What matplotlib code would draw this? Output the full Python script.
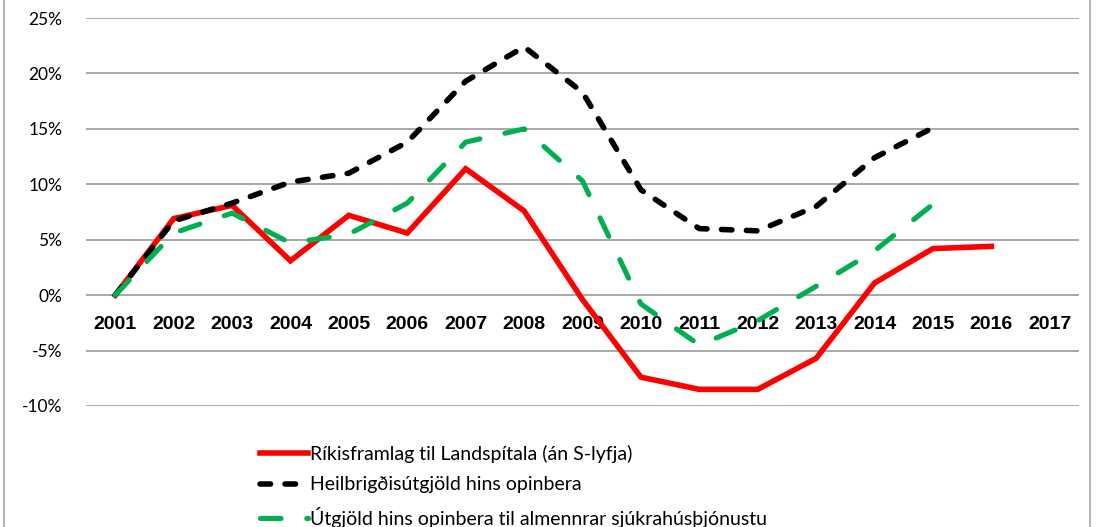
import numpy as np
import matplotlib.pyplot as plt
from matplotlib.patches import Rectangle

plt.rcParams['font.family'] = ['Lato', 'DejaVu Sans']

years = [str(y) for y in range(2001, 2018)]

# árleg breyting frá 2001, %
rikisframlag = [0.0, 6.9, 8.1, 3.1, 7.2, 5.6, 11.4, 7.6, -0.4, -7.4, -8.5, -8.5, -5.7, 1.1, 4.2, 4.4, None]
heilbrigdis = [0.0, 6.7, 8.3, 10.2, 11.0, 13.8, 19.3, 22.4, 18.3, 9.5, 6.0, 5.8, 8.0, 12.4, 15.1, None, None]
sjukrahus = [0.0, 5.6, 7.4, 4.7, 5.5, 8.3, 13.8, 15.0, 10.3, -0.8, -4.5, -2.3, 0.8, 4.0, 8.2, None, None]

labels = ["Ríkisframlag til Landspítala (án S-lyfja)",
          "Heilbrigðisútgjöld hins opinbera",
          "Útgjöld hins opinbera til almennrar sjúkrahúsþjónustu"]

def as_array(vals):
    return np.array([np.nan if v is None else v for v in vals], dtype=float)

fig = plt.figure(figsize=(11, 5.27), dpi=100)
ax = fig.add_axes([86 / 1100, 1 - 406 / 527, (1079 - 86) / 1100, (406 - 18) / 527])

# rammi utan um myndina
fig.patches.append(Rectangle((4 / 1100, -0.1), (1090 - 4) / 1100, 1.2,
                             transform=fig.transFigure, fill=False,
                             edgecolor='#a6a6a6', linewidth=1.2))

x = np.arange(len(years))
ax.plot(x, as_array(rikisframlag), color='#ff0000', lw=4.0, solid_joinstyle='miter',
        label=labels[0])
ax.plot(x, as_array(heilbrigdis), color='black', lw=4.0, dash_capstyle='round',
        dashes=(1.9, 2.6), label=labels[1])
ax.plot(x, as_array(sjukrahus), color='#00b050', lw=3.7, dash_capstyle='round',
        dashes=(4.0, 5.0), label=labels[2])

# x-ásinn liggur við 0%, áður en merkin eru sett
ax.spines['bottom'].set_position(('data', 0))
for s in ax.spines.values():
    s.set_visible(False)

ax.set_xlim(-0.5, len(years) - 0.5)
ax.set_ylim(-10, 25)
ax.set_yticks(np.arange(-10, 26, 5))
ax.set_yticklabels([f"{v}%" for v in range(-10, 26, 5)], fontsize=12.5)
ax.yaxis.grid(True, color='#999999', lw=1.2)
ax.set_axisbelow(True)

ax.set_xticks(x)
ax.set_xticklabels(years, fontsize=14, fontweight='bold',
                   family=['Liberation Sans', 'DejaVu Sans'])
ax.tick_params(axis='x', length=0, pad=15)
ax.tick_params(axis='y', length=0, pad=17)

fig.legend(loc='upper left', bbox_to_anchor=(252 / 1100, 1 - 437 / 527),
           frameon=False, fontsize=14, handlelength=2.5, handletextpad=0.1,
           labelspacing=0.7, borderaxespad=0)

fig.savefig('out.png', dpi=100)
